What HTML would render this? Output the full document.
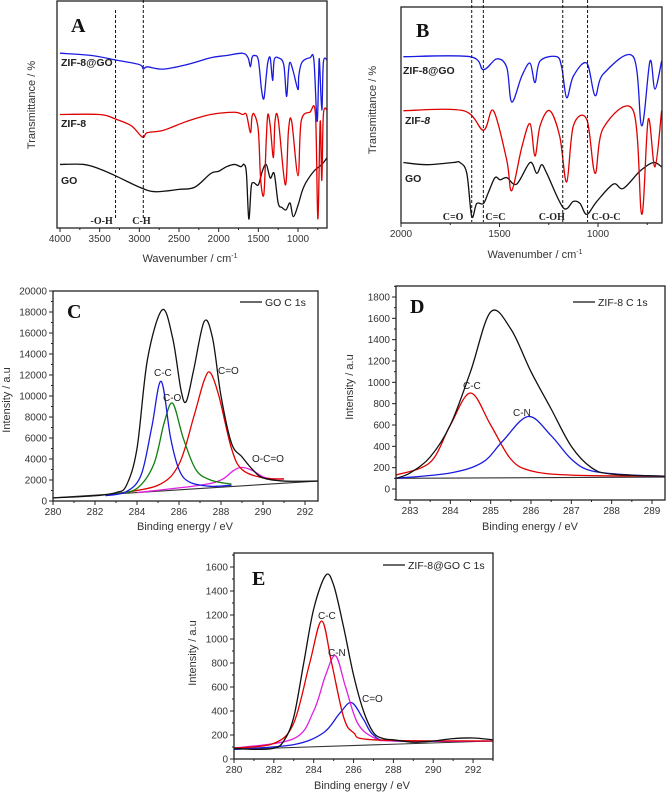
<!DOCTYPE html>
<html><head><meta charset="utf-8"><style>
html,body{margin:0;padding:0;background:#fff;}
svg{display:block;font-family:"Liberation Sans",sans-serif;}
</style></head><body>
<svg id="fig" width="666" height="792" viewBox="0 0 666 792" xmlns="http://www.w3.org/2000/svg"></svg>
<script>
// ---------- FTIR panel A (wavenumber, transmittance arbitrary) ----------
const ftirA_zif8go=[[4000,77],[3600,76],[3300,74],[3000,72],[2950,70],[2900,71],[2700,70],[2400,72],[2100,75],[1900,76],[1700,77],[1630,75],[1600,71],[1580,75],[1550,76],[1500,74],[1460,61],[1430,57],[1400,67],[1380,73],[1350,75],[1320,65],[1300,74],[1250,75],[1180,72],[1145,58],[1120,69],[1100,73],[1060,69],[1000,61],[990,67],[950,73],[850,75],[800,74],[760,47],[740,67],[730,74],[700,52],[680,73],[633,74]];
const ftirA_zif8=[[4000,50],[3500,50],[3300,48],[3100,45],[2960,40],[2900,42],[2700,43],[2400,47],[2100,50],[1800,51],[1700,50],[1650,50],[1600,42],[1580,49],[1550,50],[1500,43],[1470,21],[1430,15],[1400,39],[1380,50],[1350,45],[1310,31],[1290,47],[1250,48],[1160,19],[1120,43],[1080,47],[1000,23],[960,47],[850,51],[780,50],[750,4],[720,47],[700,21],[680,50],[633,52]];
const ftirA_go=[[4000,28],[3700,28],[3500,26],[3300,23],[3000,18],[2800,16],[2500,17],[2300,18],[2100,24],[2000,25],[1900,27],[1800,28],[1720,27],[1680,28],[1650,24],[1620,4],[1590,18],[1560,20],[1500,19],[1450,25],[1400,28],[1350,22],[1300,24],[1250,11],[1200,9],[1150,8],[1100,11],[1060,5],[1000,10],[950,16],[900,20],[800,25],[700,28],[633,31]];
const ftirA_ticks=[4000,3500,3000,2500,2000,1500,1000];
const ftirA_marks=[3300,2950];
const ftirA_markLabels=["-O-H","C-H"];
// ---------- FTIR panel B ----------
const ftirB_zif8go=[[1988,77],[1650,77],[1582,71],[1514,76],[1463,72],[1438,56],[1387,68],[1345,74],[1320,65],[1294,75],[1210,77],[1184,72],[1159,58],[1125,68],[1057,74],[1015,59],[973,69],[821,77],[778,45],[736,75],[711,62],[677,75]];
const ftirB_zif8=[[1988,52],[1684,52],[1582,43],[1531,52],[1463,29],[1438,15],[1387,35],[1345,46],[1320,31],[1294,45],[1245,52],[1194,40],[1159,19],[1125,45],[1057,48],[1015,23],[973,44],[821,52],[778,4],[745,48],[711,26],[677,52]];
const ftirB_go=[[1988,28],[1870,27],[1735,28],[1701,28],[1666,23],[1641,3],[1616,9],[1582,9],[1557,14],[1523,21],[1497,20],[1463,21],[1413,18],[1345,28],[1311,23],[1286,27],[1260,23],[1176,7],[1125,10],[1091,9],[1057,4],[1006,10],[922,18],[872,16],[787,24],[719,28],[677,26]];
const ftirB_ticks=[2000,1500,1000];
const ftirB_marks=[1641,1582,1179,1053];
const ftirB_markLabels=["C=O","C=C","C-OH","C-O-C"];
// ---------- XPS panel C (GO C 1s) ----------
const xpsC_envelope=[[280,300],[282,500],[283,800],[283.5,1500],[284,5000],[284.5,13500],[285.2,18200],[285.7,15500],[286.1,10500],[286.35,9500],[286.7,12500],[287.2,17100],[287.6,15500],[288,10000],[288.5,5500],[289,4200],[289.5,3000],[290,2200],[291,1900],[292.6,1900]];
const xpsC_cc=[[282.5,500],[283.5,900],[284.2,2500],[284.7,7000],[285.15,11400],[285.6,6000],[286,3000],[286.5,1800],[287.5,1400],[288.5,1500]];
const xpsC_co=[[283,700],[284,1200],[284.8,3500],[285.3,7500],[285.7,9300],[286.2,6000],[286.8,3000],[287.5,2000],[288.5,1600]];
const xpsC_cdo=[[283,700],[285,1500],[286,3500],[286.7,8000],[287.2,11500],[287.5,12200],[287.9,10000],[288.5,5000],[289,3000],[290,2200],[291,2100]];
const xpsC_occo=[[284,800],[287,1500],[288,2000],[288.6,2900],[289,3200],[289.5,2900],[290,2300],[290.5,2100],[291,2100]];
const xpsC_base=[[280,300],[292.6,1900]];
const xpsC_xticks=[280,282,284,286,288,290,292];
const xpsC_yticks=[0,2000,4000,6000,8000,10000,12000,14000,16000,18000,20000];
// ---------- XPS panel D (ZIF-8 C 1s) ----------
const xpsD_envelope=[[282.65,100],[283,150],[283.5,300],[284,600],[284.5,1100],[285,1660],[285.5,1500],[286,1100],[286.5,750],[287,400],[287.5,200],[288,140],[289.32,120]];
const xpsD_cc=[[282.65,130],[283.5,250],[284,600],[284.5,900],[285,600],[285.5,280],[286,170],[287,130],[289.32,120]];
const xpsD_cn=[[282.65,100],[284,150],[284.8,250],[285.3,450],[285.93,680],[286.5,500],[287,280],[287.5,170],[288.5,130],[289.32,120]];
const xpsD_base=[[282.65,100],[289.32,112]];
const xpsD_xticks=[283,284,285,286,287,288,289];
const xpsD_yticks=[0,200,400,600,800,1000,1200,1400,1600,1800];
// ---------- XPS panel E (ZIF-8@GO C 1s) ----------
const xpsE_envelope=[[280,90],[281,80],[282,90],[282.5,150],[283,350],[283.5,800],[284,1250],[284.6,1530],[285,1450],[285.5,1100],[286,700],[286.5,400],[287,220],[287.5,170],[288,160],[289,140],[290,150],[291,170],[292,175],[293,160]];
const xpsE_cc=[[280,90],[282,130],[283,300],[283.8,800],[284.4,1150],[284.9,800],[285.5,350],[286,220],[287,160],[293,150]];
const xpsE_cn=[[280,90],[283,170],[284,400],[284.6,700],[285.1,860],[285.6,600],[286.2,300],[287,180],[288,150],[293,150]];
const xpsE_cdo=[[280,80],[283,120],[284.5,220],[285.3,380],[285.9,470],[286.5,330],[287,200],[288,150],[293,150]];
const xpsE_base=[[280,80],[293,150]];
const xpsE_xticks=[280,282,284,286,288,290,292];
const xpsE_yticks=[0,200,400,600,800,1000,1200,1400,1600];

const NS="http://www.w3.org/2000/svg";
const svg=document.getElementById('fig');
function el(tag,attrs,parent){const e=document.createElementNS(NS,tag);for(const k in attrs)e.setAttribute(k,attrs[k]);(parent||svg).appendChild(e);return e;}
function txt(s,attrs,parent){const e=el('text',attrs,parent);e.textContent=s;return e;}
function lin(d0,d1,r0,r1){return v=>r0+(v-d0)*(r1-r0)/(d1-d0);}
function smoothPath(pts,xs,ys){
  const p=pts.map(q=>[xs(q[0]),ys(q[1])]);
  let d='M'+p[0][0].toFixed(2)+','+p[0][1].toFixed(2);
  for(let i=0;i<p.length-1;i++){
    const p0=p[i-1]||p[i],p1=p[i],p2=p[i+1],p3=p[i+2]||p2;
    const c1=[p1[0]+(p2[0]-p0[0])/6,p1[1]+(p2[1]-p0[1])/6];
    const c2=[p2[0]-(p3[0]-p1[0])/6,p2[1]-(p3[1]-p1[1])/6];
    d+='C'+c1.map(v=>v.toFixed(2))+' '+c2.map(v=>v.toFixed(2))+' '+p2.map(v=>v.toFixed(2));
  }
  return d;
}
let clipId=0;
function panel(name,box){
  const g=el('g',{});
  
  
  const id='clip'+(clipId++);
  const cp=el('clipPath',{id:id},g);
  el('rect',{x:box.x0,y:box.y0,width:box.x1-box.x0,height:box.y1-box.y0},cp);
  const plot=el('g',{'clip-path':'url(#'+id+')'},g);
  const frame=el('rect',{x:box.x0,y:box.y0,width:box.x1-box.x0,height:box.y1-box.y0,fill:'none',stroke:'#222','stroke-width':1.3},g);
  
  
  return {g,plot};
}
function curve(P,pts,xs,ys,color,name,w){
  const c=el('path',{d:smoothPath(pts,xs,ys),fill:'none',stroke:color,'stroke-width':w||1.3,'stroke-linejoin':'round'},P.plot);
  
  
}
function xAxis(P,ticks,xs,yb,minorStep,lo,hi){
  const a=Math.min(lo,hi),b=Math.max(lo,hi);
  for(let v=Math.ceil(a/minorStep)*minorStep;v<=b+1e-9;v+=minorStep){
    const x=xs(v);
    const major=ticks.some(t=>Math.abs(t-v)<1e-6);
    el('line',{x1:x,x2:x,y1:yb,y2:yb+(major?4:2),stroke:'#222','stroke-width':1},P.g);
  }
  ticks.forEach(t=>{
    const l=txt(String(t),{x:xs(t),y:yb+14,'text-anchor':'middle','font-size':10,fill:'#333'},P.g);
    
    
  });
}
function yAxis(P,ticks,ys,xl,minorStep,lo,hi){
  for(let v=Math.ceil(lo/minorStep)*minorStep;v<=hi+1e-9;v+=minorStep){
    const y=ys(v);
    const major=ticks.some(t=>Math.abs(t-v)<1e-6);
    el('line',{x1:xl,x2:xl-(major?4:2),y1:y,y2:y,stroke:'#222','stroke-width':1},P.g);
  }
  ticks.forEach(t=>{
    const l=txt(String(t),{x:xl-6,y:ys(t)+3.5,'text-anchor':'end','font-size':10,fill:'#333'},P.g);
    
    
  });
}
function label(P,s,x,y,name,opts){
  const a=Object.assign({x:x,y:y,'font-size':10,fill:'#222'},opts||{});
  const t=txt(s,a,P.g);
  
  
  return t;
}
function yTitle(P,s,x,y){
  const t=txt(s,{x:x,y:y,'text-anchor':'middle','font-size':11,fill:'#333',transform:'rotate(-90 '+x+' '+y+')'},P.g);
  
  
}
function xTitle(P,s,x,y,sup){
  const t=txt(s,{x:x,y:y,'text-anchor':'middle','font-size':11,fill:'#333'},P.g);
  if(sup){const ts=el('tspan',{dy:-4,'font-size':7},t);ts.textContent=sup;}
  
  
}
function panelLetter(P,s,x,y){
  const t=txt(s,{x:x,y:y,'font-family':'"Liberation Serif",serif','font-weight':'bold','font-size':20,fill:'#111'},P.g);
  
  
}
function dashed(P,x,y0,y1){
  const l=el('line',{x1:x,x2:x,y1:y0,y2:y1,stroke:'#111','stroke-width':1,'stroke-dasharray':'3,2'},P.g);
  
  
}
function legend(P,s,x,y){
  const l=el('line',{x1:x,x2:x+22,y1:y,y2:y,stroke:'#111','stroke-width':1.2},P.g);
  
  
  label(P,s,x+25,y+4,'legend-entry',{'font-size':10.5});
}

// ===== Panel A =====
(function(){
  const box={x0:57,x1:327,y0:1,y1:228};
  const xs=lin(4000,1000,60,298), ys=lin(0,100,228,1);
  const P=panel('panel-a-ftir',box);
  curve(P,ftirA_go,xs,ys,'#111','series-go');
  curve(P,ftirA_zif8,xs,ys,'#e00000','series-zif8');
  curve(P,ftirA_zif8go,xs,ys,'#1a1ae0','series-zif8-go');
  ftirA_marks.forEach((m,i)=>{dashed(P,xs(m),i==0?10:0,220);});
  label(P,ftirA_markLabels[0],xs(ftirA_marks[0])-25,224,'peak-label-oh',{'font-family':'"Liberation Serif",serif','font-weight':'bold','font-size':10});
  label(P,ftirA_markLabels[1],xs(ftirA_marks[1])-11,224,'peak-label-ch',{'font-family':'"Liberation Serif",serif','font-weight':'bold','font-size':10});
  xAxis(P,ftirA_ticks,xs,228,250,633,4000);
  label(P,'ZIF-8@GO',61,66,'series-label-zif8-go',{'font-weight':'bold','font-size':10.5});
  label(P,'ZIF-8',61,127,'series-label-zif8',{'font-weight':'bold','font-size':10.5});
  label(P,'GO',61,184,'series-label-go',{'font-weight':'bold','font-size':10.5});
  panelLetter(P,'A',71,32);
  yTitle(P,'Transmittance / %',35,105);
  xTitle(P,'Wavenumber / cm',190,262,'-1');
})();
// ===== Panel B =====
(function(){
  const box={x0:401,x1:662,y0:7,y1:223};
  const xs=lin(2000,1000,401,598), ys=lin(0,100,223,7);
  const P=panel('panel-b-ftir',box);
  curve(P,ftirB_go,xs,ys,'#111','series-go');
  curve(P,ftirB_zif8,xs,ys,'#e00000','series-zif8');
  curve(P,ftirB_zif8go,xs,ys,'#1a1ae0','series-zif8-go');
  const offs=[-29,2,-24,4];
  ftirB_marks.forEach((m,i)=>{dashed(P,xs(m),0,222);
    label(P,ftirB_markLabels[i],xs(m)+offs[i],220,'peak-label',{'font-family':'"Liberation Serif",serif','font-weight':'bold','font-size':10});});
  xAxis(P,ftirB_ticks,xs,223,250,675,2000);
  label(P,'ZIF-8@GO',403,74,'series-label-zif8-go',{'font-weight':'bold','font-size':10.5});
  const z=label(P,'ZIF-',405,124,'series-label-zif8',{'font-weight':'bold','font-size':10.5});
  const it=el('tspan',{'font-style':'italic'},z); it.textContent='8';
  label(P,'GO',405,182,'series-label-go',{'font-weight':'bold','font-size':10.5});
  panelLetter(P,'B',416,37);
  yTitle(P,'Transmittance / %',376,110);
  xTitle(P,'Wavenumber / cm',535,258,'-1');
})();
// ===== Panel C =====
(function(){
  const box={x0:53,x1:318,y0:291,y1:501};
  const xs=lin(280,292,53,305), ys=lin(0,20000,501,291);
  const P=panel('panel-c-xps-go',box);
  curve(P,xpsC_base,xs,ys,'#333','baseline',1.1);
  curve(P,xpsC_occo,xs,ys,'#e020e0','peak-o-c-o');
  curve(P,xpsC_cdo,xs,ys,'#e00000','peak-c-double-o');
  curve(P,xpsC_co,xs,ys,'#108010','peak-c-o');
  curve(P,xpsC_cc,xs,ys,'#1a1ae0','peak-c-c');
  curve(P,xpsC_envelope,xs,ys,'#111','envelope-go');
  xAxis(P,xpsC_xticks,xs,501,1,280,292.6);
  yAxis(P,xpsC_yticks,ys,53,1000,0,20000);
  label(P,'C-C',154,376,'peak-label-c-c');
  label(P,'C-O',163,401,'peak-label-c-o');
  label(P,'C=O',218,374,'peak-label-c-double-o');
  label(P,'O-C=O',252,462,'peak-label-o-c-o');
  legend(P,'GO C 1s',240,302);
  panelLetter(P,'C',67,318);
  yTitle(P,'Intensity / a.u',10,400);
  xTitle(P,'Binding energy / eV',185,530);
})();
// ===== Panel D =====
(function(){
  const box={x0:396,x1:665,y0:286,y1:500};
  const xs=lin(283,289,410,652), ys=lin(0,1800,489,297);
  const P=panel('panel-d-xps-zif8',box);
  curve(P,xpsD_base,xs,ys,'#333','baseline',1.1);
  curve(P,xpsD_cc,xs,ys,'#e00000','peak-c-c');
  curve(P,xpsD_cn,xs,ys,'#1a1ae0','peak-c-n');
  curve(P,xpsD_envelope,xs,ys,'#111','envelope-zif8');
  xAxis(P,xpsD_xticks,xs,500,0.5,282.65,289.32);
  yAxis(P,xpsD_yticks,ys,396,100,-100,1900);
  label(P,'C-C',463,389,'peak-label-c-c');
  label(P,'C-N',513,416,'peak-label-c-n');
  legend(P,'ZIF-8 C 1s',573,302);
  panelLetter(P,'D',410,313);
  yTitle(P,'Intensity / a.u',353,387);
  xTitle(P,'Binding energy / eV',530,530);
})();
// ===== Panel E =====
(function(){
  const box={x0:234,x1:493,y0:553,y1:759};
  const xs=lin(280,293,234,493), ys=lin(0,1600,759,567);
  const P=panel('panel-e-xps-zif8-go',box);
  curve(P,xpsE_base,xs,ys,'#333','baseline',1.1);
  curve(P,xpsE_cdo,xs,ys,'#1a1ae0','peak-c-double-o');
  curve(P,xpsE_cn,xs,ys,'#e020e0','peak-c-n');
  curve(P,xpsE_cc,xs,ys,'#e00000','peak-c-c');
  curve(P,xpsE_envelope,xs,ys,'#111','envelope-zif8-go');
  xAxis(P,xpsE_xticks,xs,759,1,280,293);
  yAxis(P,xpsE_yticks,ys,234,100,0,1700);
  label(P,'C-C',318,619,'peak-label-c-c');
  label(P,'C-N',328,656,'peak-label-c-n');
  label(P,'C=O',362,702,'peak-label-c-double-o');
  legend(P,'ZIF-8@GO C 1s',383,565);
  panelLetter(P,'E',252,585);
  yTitle(P,'Intensity / a.u',196,653);
  xTitle(P,'Binding energy / eV',362,789);
})();
</script>
</body></html>
